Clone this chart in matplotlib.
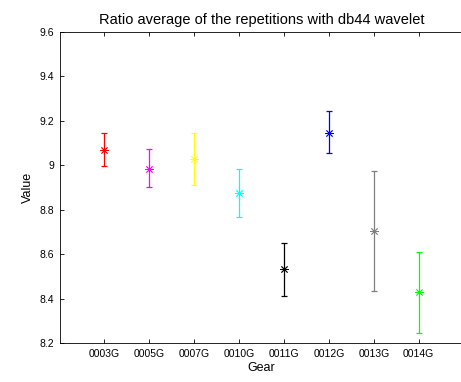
import matplotlib
matplotlib.use("Agg")
import matplotlib.pyplot as plt

categories = ["0003G", "0005G", "0007G", "0010G", "0011G", "0012G", "0013G", "0014G"]
means = [9.068, 8.986, 9.028, 8.878, 8.536, 9.148, 8.707, 8.430]
upper = [9.144, 9.073, 9.148, 8.984, 8.651, 9.244, 8.973, 8.609]
lower = [8.998, 8.902, 8.911, 8.768, 8.414, 9.054, 8.433, 8.247]
colors = ["#ff0000", "#ff00ff", "#ffff00", "#00ffff", "#000000", "#0000ff", "#808080", "#00ff00"]

plt.rcParams['font.family'] = ['Liberation Sans', 'DejaVu Sans']

fig = plt.figure(figsize=(4.61, 3.82), dpi=100)
ax = fig.add_axes([59.5/461, 38.7/382, 9*44.9/461, 311.3/382])

for i, (m, u, l, c) in enumerate(zip(means, upper, lower, colors)):
    ax.errorbar([i + 1], [m], yerr=[[m - l], [u - m]], fmt='none',
                ecolor=c, elinewidth=0.9, capsize=2.5, capthick=0.9)
    ax.plot([i + 1], [m], linestyle='none', marker=(8, 2, 0), color=c,
            markersize=6, markeredgewidth=0.6)

ax.set_xlim(0, 9)
ax.set_ylim(8.2, 9.6)
ax.set_xticks(range(1, 9))
ax.set_xticklabels(categories)
ax.set_yticks([8.2, 8.4, 8.6, 8.8, 9.0, 9.2, 9.4, 9.6])
ax.set_yticklabels(["8.2", "8.4", "8.6", "8.8", "9", "9.2", "9.4", "9.6"])
ax.tick_params(direction='in', top=True, right=False, labelsize=7.5, length=3, width=0.6, pad=4)
for s in ax.spines.values():
    s.set_linewidth(0.6)
ax.set_xlabel("Gear", fontsize=9, labelpad=2)
ax.set_ylabel("Value", fontsize=9, labelpad=4)
ax.set_title("Ratio average of the repetitions with db44 wavelet", fontsize=10.5, pad=6)

fig.savefig("out.png", dpi=100)
